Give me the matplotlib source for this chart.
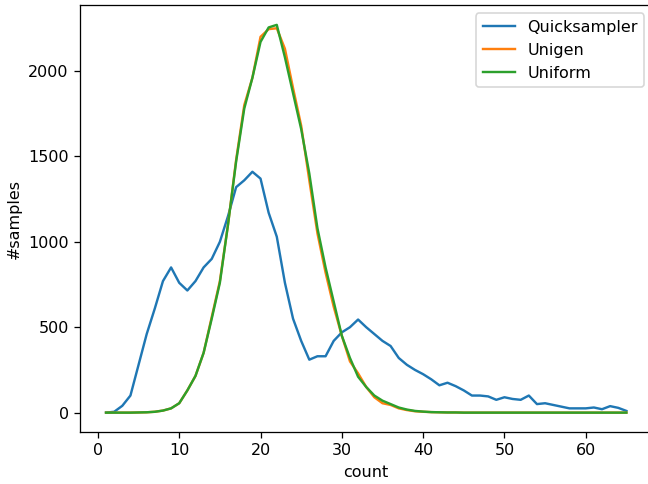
import numpy as np
import matplotlib.pyplot as plt

# counts 1..65
counts = list(range(1, 66))

quicksampler = [0, 5, 40, 100, 280, 460, 610, 770, 850, 760,
                715, 770, 850, 900, 1000, 1150, 1320, 1360, 1410, 1370,
                1170, 1030, 760, 550, 420, 310, 330, 330, 420, 470,
                500, 545, 500, 460, 420, 390, 320, 280, 250, 225,
                195, 160, 175, 155, 130, 100, 100, 95, 75, 90,
                80, 75, 100, 50, 55, 45, 35, 25, 25, 25,
                30, 20, 38, 28, 10]

unigen = [0, 0, 0, 0, 1, 2, 5, 12, 25, 55,
          130, 215, 350, 560, 770, 1100, 1480, 1800, 1960, 2200,
          2245, 2250, 2130, 1900, 1680, 1360, 1050, 820, 620, 450,
          300, 230, 150, 90, 55, 45, 25, 15, 8, 5,
          3, 2, 1, 1, 0, 0, 0, 0, 0, 0,
          0, 0, 0, 0, 0, 0, 0, 0, 0, 0,
          0, 0, 0, 0, 0]

uniform = [0, 0, 0, 0, 1, 2, 5, 12, 25, 55,
           130, 215, 350, 550, 760, 1100, 1470, 1780, 1960, 2170,
           2255, 2270, 2080, 1870, 1660, 1400, 1080, 850, 650, 450,
           320, 210, 150, 100, 70, 50, 30, 18, 10, 6,
           3, 2, 1, 1, 0, 0, 0, 0, 0, 0,
           0, 0, 0, 0, 0, 0, 0, 0, 0, 0,
           0, 0, 0, 0, 0]

DPI = 115.4
fig = plt.figure(figsize=(648 / DPI, 484 / DPI), dpi=DPI)
# axes run past the right edge, as in the cropped original
ax = fig.add_axes([0.1235, 0.1074, 0.8833, 0.8813])
ax.plot(counts, quicksampler, label='Quicksampler')
ax.plot(counts, unigen, label='Unigen')
ax.plot(counts, uniform, label='Uniform')
ax.spines['right'].set_visible(False)
ax.set_xlabel("count")
ax.set_ylabel("#samples")
ax.legend()
fig.savefig("out.png", dpi=DPI)
